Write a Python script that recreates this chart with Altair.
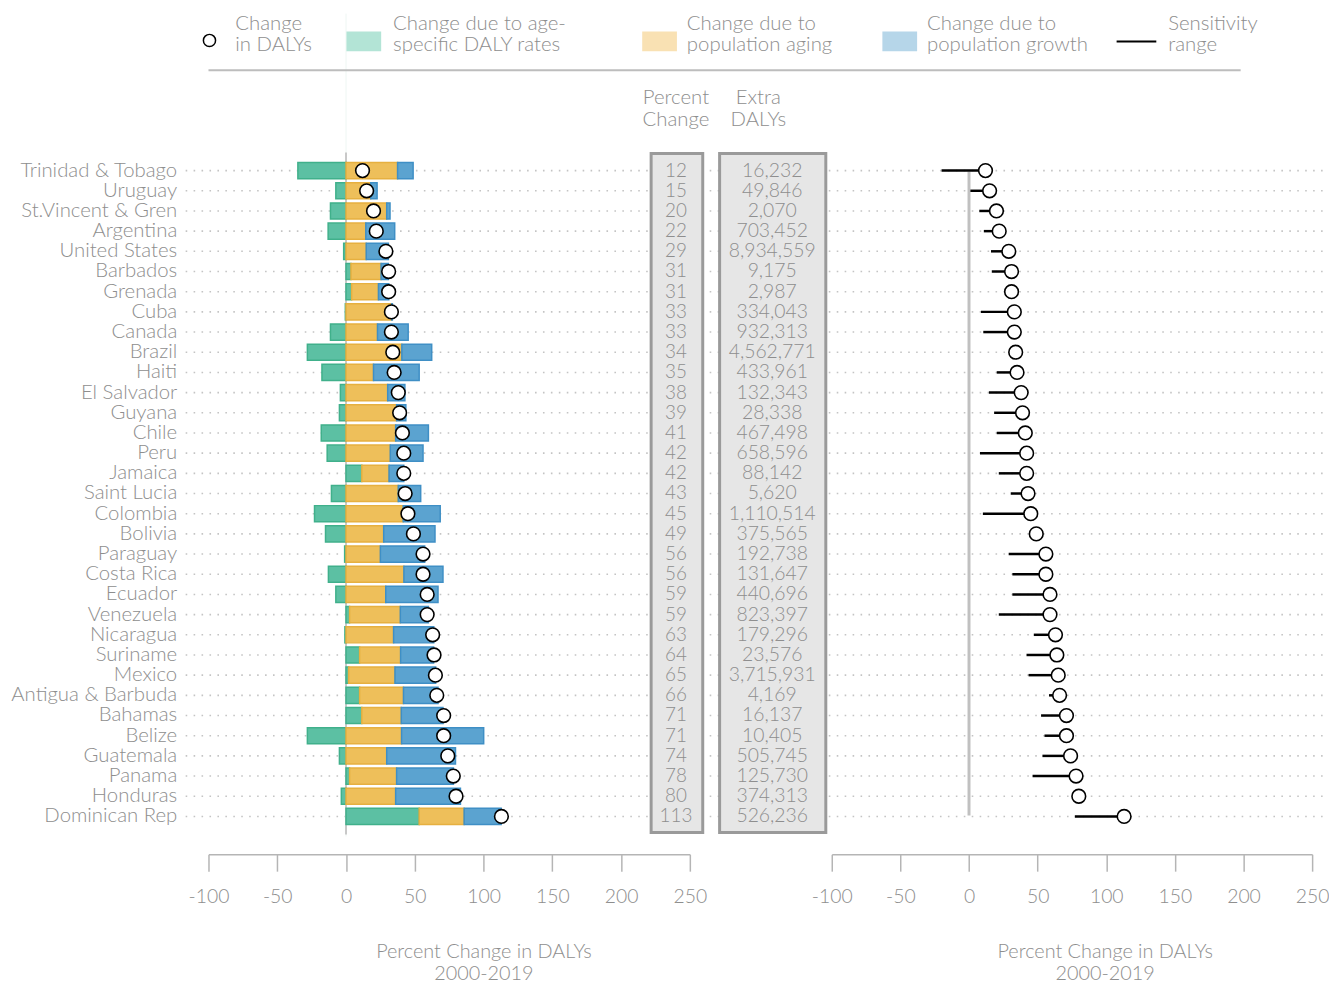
import altair as alt
import pandas as pd

countries = ["Trinidad & Tobago", "Uruguay", "St.Vincent & Gren", "Argentina", "United States",
             "Barbados", "Grenada", "Cuba", "Canada", "Brazil", "Haiti", "El Salvador", "Guyana",
             "Chile", "Peru", "Jamaica", "Saint Lucia", "Colombia", "Bolivia", "Paraguay",
             "Costa Rica", "Ecuador", "Venezuela", "Nicaragua", "Suriname", "Mexico",
             "Antigua & Barbuda", "Bahamas", "Belize", "Guatemala", "Panama", "Honduras",
             "Dominican Rep"]
pct_change = [12, 15, 20, 22, 29, 31, 31, 33, 33, 34, 35, 38, 39, 41, 42, 42, 43, 45, 49, 56, 56,
              59, 59, 63, 64, 65, 66, 71, 71, 74, 78, 80, 113]
extra_dalys = [16232, 49846, 2070, 703452, 8934559, 9175, 2987, 334043, 932313, 4562771, 433961,
               132343, 28338, 467498, 658596, 88142, 5620, 1110514, 375565, 192738, 131647, 440696,
               823397, 179296, 23576, 3715931, 4169, 16137, 10405, 505745, 125730, 374313, 526236]
due_rates = [-35, -7.4, -11.3, -13, -1.7, 3.6, 4.1, -0.5, -11.3, -28.1, -17.5, -4.1, -4.8, -18,
             -13.7, 11.5, -10.6, -22.9, -14.9, -1, -12.8, -7.4, 2.6, -0.8, 9.9, 1.9, 9.9, 11.5,
             -28.1, -4.8, 2.6, -3.4, 53.2]
due_aging = [37.5, 18, 29.6, 14.4, 14.7, 21.9, 19.5, 33.2, 22.9, 40.6, 20, 30.3, 36.8, 36.1, 32.2,
             19.8, 38, 41.6, 27.4, 25, 42.1, 28.9, 36.9, 34.6, 29.8, 33.7, 31.9, 28.7, 40.4, 29.6,
             34.2, 36.1, 32.7]
due_growth = [11.3, 4.6, 2.4, 21, 16.1, 5.3, 7.5, 0.5, 22.3, 21.7, 33.2, 12.5, 6.7, 23.8, 23.8,
              10.7, 16.3, 26.9, 37.3, 32.2, 28.4, 38, 20.4, 29.2, 24, 29.6, 25.1, 30.3, 59.7, 50,
              41.3, 47.1, 26.9]
sens_low = [-20, 1, 7.5, 10.8, 16, 16.6, 31, 8.7, 10.4, 34, 20.2, 14.5, 18.3, 20.2, 8, 21.7, 30.4,
            10.1, 49, 28.9, 31.6, 31.6, 21.7, 47.2, 41.9, 43.4, 58.3, 52.5, 55, 53.5, 46.3, 80, 77.1]

components = ["Change due to age-specific DALY rates", "Change due to population aging",
              "Change due to population growth"]
fills = ["#5cc0a3", "#eebf5a", "#5ba3d0"]
strokes = ["#40b08b", "#e6b040", "#3f8fc5"]
x_ticks = [-100, -50, 0, 50, 100, 150, 200, 250]

FONT = "Lato"
FW = 300
GREY = "#8e8e8e"
W1, W2, H = 485, 484, 667

rows = []
for i, c in enumerate(countries):
    for k, vals in enumerate([due_rates, due_aging, due_growth]):
        rows.append({"country": c, "component": components[k], "value": vals[i], "ord": k})
bars_df = pd.DataFrame(rows)
main_df = pd.DataFrame({"country": countries, "pct": pct_change, "extra": extra_dalys,
                        "low": sens_low})
one = pd.DataFrame({"k": [0]})

yenc = alt.Y("country:N", sort=countries,
             scale=alt.Scale(paddingInner=0.2, paddingOuter=0))


def xaxis(title_x):
    return alt.Axis(values=x_ticks, offset=30, domainColor="#b5b5b5", domainWidth=1.5,
                    tickColor="#b5b5b5", tickSize=17, tickWidth=1.5, labelFontSize=19.5,
                    labelColor=GREY, labelPadding=17, labelFont=FONT, labelFontWeight=FW,
                    labelFlush=False, labelExpr="'' + datum.value",
                    title=["Percent Change in DALYs", "2000-2019"], titleFontSize=20,
                    titleColor=GREY, titleFontWeight=FW, titleFont=FONT, titleX=title_x,
                    titleY=88, titleBaseline="top", titleLineHeight=22, grid=False)


xscale = alt.Scale(domain=[-100, 250], nice=False, zero=False)

# ---------------- left panel ----------------
base_l = alt.Chart(main_df)
dots_l = base_l.mark_rule(color="#c4c4c4", strokeWidth=1.6, strokeDash=[1.6, 6.4]).encode(
    y=alt.Y("country:N", sort=countries, scale=alt.Scale(paddingInner=0.2, paddingOuter=0),
            axis=alt.Axis(title=None, domain=False, ticks=False, labelFontSize=20.5,
                          labelColor=GREY, labelPadding=32, labelFont=FONT,
                          labelFontWeight=FW, labelLimit=400)),
    x=alt.value(-23), x2=alt.value(623))
zero_faint = alt.Chart(one).mark_rule(color="#eef6f3", strokeWidth=1).encode(
    x=alt.datum(0, scale=xscale), y=alt.value(-150), y2=alt.value(H + 12))
zero_l = alt.Chart(one).mark_rule(color="#c8c8c8", strokeWidth=2).encode(
    x=alt.datum(0), y=alt.value(-10), y2=alt.value(H + 10))
bars = alt.Chart(bars_df).mark_bar(strokeWidth=1.5).encode(
    y=yenc,
    x=alt.X("value:Q", stack="zero", scale=xscale, axis=xaxis(277)),
    color=alt.Color("component:N", scale=alt.Scale(domain=components, range=fills), legend=None),
    stroke=alt.Stroke("component:N", scale=alt.Scale(domain=components, range=strokes),
                      legend=None),
    order=alt.Order("ord:Q"))
circ_l = base_l.mark_point(shape="circle", filled=False, fill="white", fillOpacity=1,
                           stroke="black", strokeWidth=1.6, size=190, opacity=1).encode(
    y=yenc, x=alt.X("pct:Q"))
box1 = alt.Chart(one).mark_rect(fill="#e6e6e6", stroke="#9a9a9a", strokeWidth=3).encode(
    x=alt.value(446), x2=alt.value(498), y=alt.value(-9), y2=alt.value(675))
box2 = alt.Chart(one).mark_rect(fill="#e6e6e6", stroke="#9a9a9a", strokeWidth=3).encode(
    x=alt.value(515), x2=alt.value(622), y=alt.value(-9), y2=alt.value(675))
txt_pct = base_l.mark_text(font=FONT, fontSize=19, fontWeight=FW, color=GREY, align="center",
                           baseline="middle").encode(
    y=yenc, x=alt.value(471), text=alt.Text("pct:Q"))
txt_extra = base_l.mark_text(font=FONT, fontSize=19.5, fontWeight=FW, color=GREY,
                             align="center", baseline="middle").encode(
    y=yenc, x=alt.value(568), text=alt.Text("extra:Q", format=","))
hdr1 = alt.Chart(one).mark_text(text=["Percent", "Change"], font=FONT, fontSize=20.5,
                                fontWeight=FW, color=GREY, align="center", baseline="middle",
                                lineHeight=22).encode(
    x=alt.value(471), y=alt.value(-65))
hdr2 = alt.Chart(one).mark_text(text=["Extra", "DALYs"], font=FONT, fontSize=20.5,
                                fontWeight=FW, color=GREY, align="center", baseline="middle",
                                lineHeight=22).encode(
    x=alt.value(554), y=alt.value(-65))

# legend
LY = -140
leg = [
    alt.Chart(one).mark_point(shape="circle", filled=False, fill="white", stroke="black",
                              strokeWidth=1.5, size=150, opacity=1).encode(
        x=alt.value(1), y=alt.value(-123)),
    alt.Chart(one).mark_rect(fill="#b3e4d6").encode(
        x=alt.value(139), x2=alt.value(174), y=alt.value(-132), y2=alt.value(-112)),
    alt.Chart(one).mark_rect(fill="#f9e1b3").encode(
        x=alt.value(437), x2=alt.value(472), y=alt.value(-132), y2=alt.value(-112)),
    alt.Chart(one).mark_rect(fill="#b6d6e9").encode(
        x=alt.value(679), x2=alt.value(714), y=alt.value(-132), y2=alt.value(-112)),
    alt.Chart(one).mark_rule(color="black", strokeWidth=2).encode(
        x=alt.value(915), x2=alt.value(955), y=alt.value(-122)),
    alt.Chart(one).mark_rule(color="#bdbdbd", strokeWidth=2).encode(
        x=alt.value(0), x2=alt.value(1040), y=alt.value(-93)),
]
leg_texts = [(27, ["Change", "in DALYs"]), (186, ["Change due to age-", "specific DALY rates"]),
             (482, ["Change due to", "population aging"]),
             (724, ["Change due to", "population growth"]), (967, ["Sensitivity", "range"])]
for lx, t in leg_texts:
    leg.append(alt.Chart(one).mark_text(text=t, font=FONT, fontSize=20.5, fontWeight=FW,
                                        color=GREY, align="left", baseline="middle",
                                        lineHeight=22).encode(
        x=alt.value(lx), y=alt.value(LY)))

left = alt.layer(dots_l, zero_faint, zero_l, bars, circ_l, box1, box2, txt_pct, txt_extra,
                 hdr1, hdr2, *leg).properties(width=W1, height=H)

# ---------------- right panel ----------------
base_r = alt.Chart(main_df)
yenc_r = alt.Y("country:N", sort=countries, scale=alt.Scale(paddingInner=0.2, paddingOuter=0),
               axis=None)
dots_r = base_r.mark_rule(color="#c4c4c4", strokeWidth=1.6, strokeDash=[1.6, 6.4]).encode(
    y=yenc_r, x=alt.value(-3), x2=alt.value(497))
zero_r = alt.Chart(one).mark_rule(color="#c0c0c0", strokeWidth=3).encode(
    x=alt.datum(0, scale=xscale, axis=xaxis(275)), y=alt.value(9), y2=alt.value(H - 9))
sens = base_r.mark_rule(color="black", strokeWidth=2.5).encode(
    y=yenc_r, x=alt.X("low:Q"), x2="pct:Q")
circ_r = base_r.mark_point(shape="circle", filled=False, fill="white", fillOpacity=1,
                           stroke="black", strokeWidth=1.6, size=190, opacity=1).encode(
    y=yenc_r, x=alt.X("pct:Q"))
right = alt.layer(dots_r, zero_r, sens, circ_r).properties(width=W2, height=H)

chart = alt.hconcat(left, right, spacing=143, bounds="flush").properties(
    padding={"left": 2, "top": 1, "right": 0, "bottom": -3}
).configure(background="white").configure_view(stroke=None)

chart.save("out.html", embed_options={"renderer": "svg", "actions": False})
